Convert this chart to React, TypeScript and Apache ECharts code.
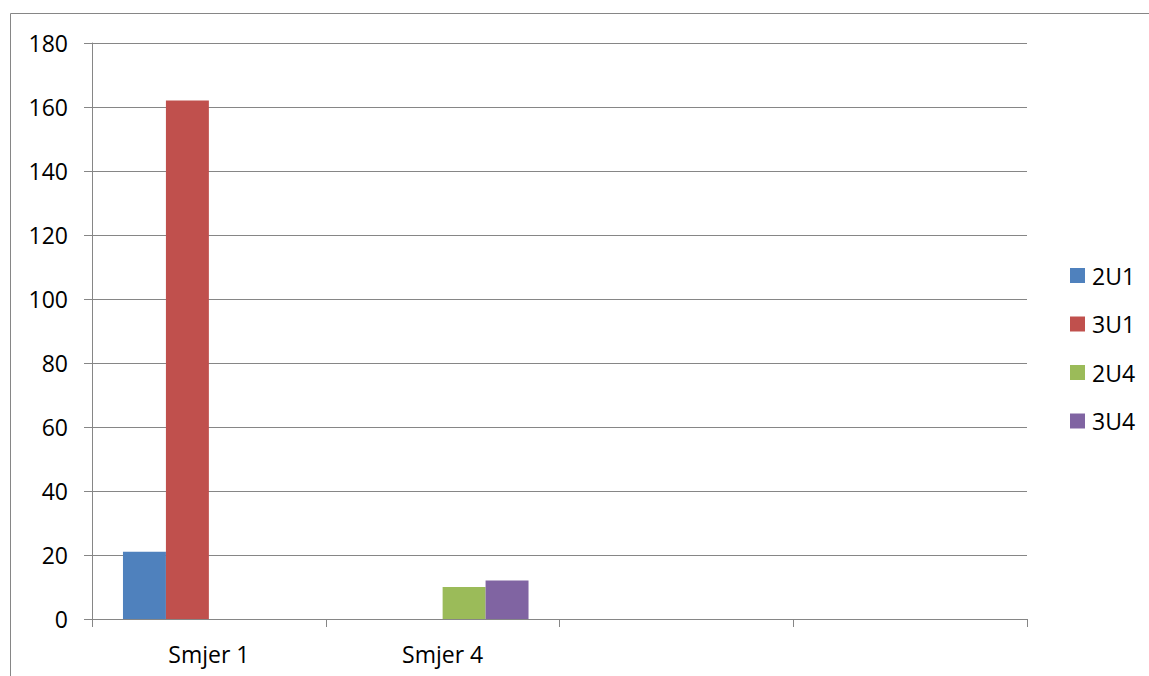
import React, { useEffect, useRef } from "react";
import * as echarts from "echarts";

const categories = ["Smjer 1", "Smjer 4", "", ""];
const seriesNames = ["2U1", "3U1", "2U4", "3U4"];
const s2U1 = [21, null, null, null];
const s3U1 = [162, null, null, null];
const s2U4 = [null, 10, null, null];
const s3U4 = [null, 12, null, null];
const colors = ["#4F81BD", "#C0504D", "#9BBB59", "#8064A2"];

const FONT = "'Open Sans', 'Liberation Sans', sans-serif";
const FS = 23;

export default function App() {
  const ref = useRef<HTMLDivElement>(null);
  useEffect(() => {
    const chart = echarts.init(ref.current!, null, { renderer: "svg" });
    const values = [s2U1, s3U1, s2U4, s3U4];
    chart.setOption({
      animation: false,
      backgroundColor: "#ffffff",
      graphic: [
        {
          type: "rect",
          shape: { x: 10.5, y: 13.5, width: 1300, height: 800 },
          style: { fill: "none", stroke: "#868686", lineWidth: 1 },
          silent: true,
        },
      ],
      grid: { left: 92, right: 122, top: 43, bottom: 57, containLabel: false },
      legend: {
        orient: "vertical",
        left: 1065,
        top: 259,
        itemWidth: 15,
        itemHeight: 15,
        itemGap: 25.5,
        icon: "rect",
        data: seriesNames,
        textStyle: { fontFamily: FONT, fontSize: FS, color: "#000", padding: [0, 0, 0, 2] },
      },
      xAxis: {
        type: "category",
        data: categories,
        axisLine: { show: true, lineStyle: { color: "#868686", width: 1 } },
        axisTick: { show: true, length: 8, alignWithLabel: false, lineStyle: { color: "#868686" } },
        axisLabel: { fontFamily: FONT, fontSize: FS, color: "#000", margin: 23 },
        splitLine: { show: false },
      },
      yAxis: {
        type: "value",
        min: 0,
        max: 180,
        interval: 20,
        axisLine: { show: true, lineStyle: { color: "#868686", width: 1 } },
        axisTick: { show: true, length: 8, lineStyle: { color: "#868686" } },
        axisLabel: { fontFamily: FONT, fontSize: FS, color: "#000", margin: 24 },
        splitLine: { show: true, lineStyle: { color: "#868686", width: 1 } },
      },
      series: seriesNames.map((name, i) => ({
        name,
        type: "bar",
        data: values[i],
        barGap: "0%",
        barCategoryGap: "26.5%",
        itemStyle: { color: colors[i] },
      })),
    });
    return () => chart.dispose();
  }, []);
  return (
    <div
      ref={ref}
      style={{ position: "fixed", left: 0, top: 0, width: 1149, height: 676 }}
    />
  );
}
